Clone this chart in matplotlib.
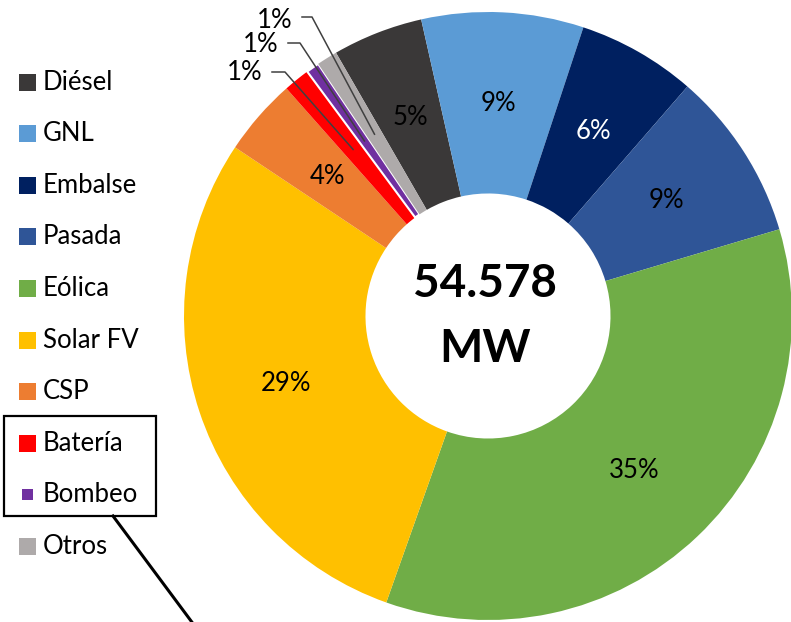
import matplotlib.pyplot as plt
import numpy as np
from matplotlib.lines import Line2D
from matplotlib.patches import Rectangle

plt.rcParams['font.family'] = ['Lato', 'DejaVu Sans']

# datos (% de capacidad instalada)
fuentes = ['Diésel', 'GNL', 'Embalse', 'Pasada', 'Eólica', 'Solar FV', 'CSP', 'Batería', 'Bombeo', 'Otros']
valores = [4.8, 8.6, 6.3, 9.0, 35.0, 28.9, 4.1, 1.4, 0.7, 1.1]
colores = ['#3A3838', '#5B9BD5', '#002060', '#2F5597', '#70AD47', '#FFC000', '#ED7D31', '#FF0000', '#7030A0', '#AEAAAA']
color_texto = ['black', 'black', 'white', 'black', 'black', 'black', 'black', 'black', 'black', 'black']
total_mw = ['54.578', 'MW']

W, H = 791, 622
fig = plt.figure(figsize=(W / 100, H / 100), dpi=100)

def fx(x):
    return x / W

def fy(y):
    return 1 - y / H

# ejes del anillo (en pixeles)
cx, cy, R = 488, 316, 304
ax = fig.add_axes([(cx - R) / W, (H - cy - R) / H, 2 * R / W, 2 * R / H])

inicio = 120
wedges, _ = ax.pie(valores, colors=colores, startangle=inicio, counterclock=False,
                   radius=1, wedgeprops=dict(width=0.597, linewidth=0))
wedges[8].set_edgecolor('white')
wedges[8].set_linewidth(1.5)
ax.set_xlim(-1, 1)
ax.set_ylim(-1, 1)
ax.set_aspect('equal')
ax.axis('off')

total = sum(valores)
pct = [f'{round(v / total * 100):.0f}%' for v in valores]

# angulos medios de cada sector
acum = np.cumsum([0] + valores[:-1])
medios = [np.deg2rad(inicio - 360 * (a + v / 2) / total) for a, v in zip(acum, valores)]

r_lab = 0.70
for i in range(7):
    ax.text(r_lab * np.cos(medios[i]), r_lab * np.sin(medios[i]), pct[i],
            ha='center', va='center', fontsize=18.5, color=color_texto[i])

def px(x, y):
    return (x - cx) / R, (cy - y) / R

# etiquetas pequeñas con lineas guia
pos_txt = {7: (245, 73), 8: (261, 45), 9: (275, 21)}
pos_codo = {7: ((272, 72), (285, 72)), 8: ((288, 43), (300, 43)), 9: ((302, 17), (312, 17))}
for i in [7, 8, 9]:
    tx, ty = px(*pos_txt[i])
    ax.text(tx, ty, pct[i], ha='center', va='center', fontsize=18.5)
    (x0, y0), (x1, y1) = [px(*p) for p in pos_codo[i]]
    ex, ey = 0.705 * np.cos(medios[i]), 0.705 * np.sin(medios[i])
    ax.plot([x0, x1, ex], [y0, y1, ey], color='#404040', lw=1.1, clip_on=False)

# total al centro
ax.text(*px(485, 297), total_mw[0], ha='center', va='baseline', fontsize=33, fontweight='bold')
ax.text(*px(485, 362), total_mw[1], ha='center', va='baseline', fontsize=33, fontweight='bold')

# leyenda
for i, (f, c) in enumerate(zip(fuentes, colores)):
    yc = 82 + 51.6 * i
    lado = 11 if f == 'Bombeo' else 17
    fig.add_artist(Rectangle((fx(27.5 - lado / 2), fy(yc + lado / 2)), lado / W, lado / H,
                             transform=fig.transFigure, facecolor=c, edgecolor='none'))
    fig.text(fx(43), fy(yc), f, ha='left', va='center', fontsize=18.5)

# recuadro Batería / Bombeo y linea de llamada
fig.add_artist(Rectangle((fx(4), fy(516)), 152 / W, 100 / H, transform=fig.transFigure,
                         fill=False, edgecolor='black', lw=1.6))
fig.add_artist(Line2D([fx(113), fx(200)], [fy(516), fy(633)],
                      transform=fig.transFigure, color='black', lw=2.2))

fig.savefig('out.png', dpi=100)
